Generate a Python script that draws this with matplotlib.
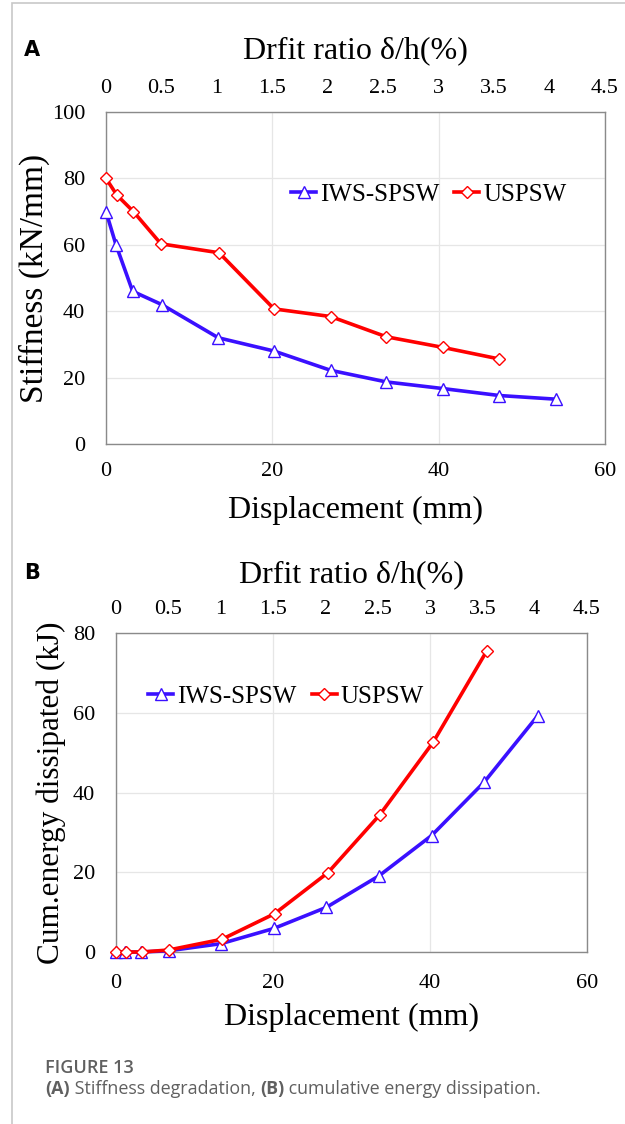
import matplotlib
matplotlib.use("Agg")
import matplotlib.pyplot as plt
from matplotlib.patches import Rectangle

# ---- data ----
disp_a_iws = [0, 1.2, 3.2, 6.7, 13.5, 20.2, 27.0, 33.7, 40.5, 47.3, 54.1]
stiff_iws = [70, 60, 46, 42, 32, 28, 22.2, 18.7, 16.7, 14.6, 13.5]
disp_a_us = [0, 1.3, 3.3, 6.6, 13.6, 20.2, 27.0, 33.7, 40.5, 47.3]
stiff_us = [80, 75, 70, 60.3, 57.6, 40.7, 38.4, 32.3, 29.1, 25.6]

disp_b_iws = [0, 1.2, 3.2, 6.7, 13.4, 20.1, 26.8, 33.5, 40.2, 46.9, 53.7]
energy_iws = [0, 0, 0, 0.3, 2.1, 5.9, 11.2, 19.1, 29.2, 42.6, 59.2]
disp_b_us = [0, 1.3, 3.3, 6.7, 13.5, 20.2, 27.0, 33.6, 40.4, 47.2]
energy_us = [0, 0, 0, 0.5, 3.2, 9.6, 19.9, 34.4, 52.6, 75.4]

x_ticks = [0, 20, 40, 60]
drift_ticks = [0, 0.5, 1, 1.5, 2, 2.5, 3, 3.5, 4, 4.5]
y_ticks_a = [0, 20, 40, 60, 80, 100]
y_ticks_b = [0, 20, 40, 60, 80]

series_names = ["IWS-SPSW", "USPSW"]

BLUE = "#3a10ff"
RED = "#ff0000"
SERIF = ["Liberation Serif", "DejaVu Serif"]
W, H = 625, 1124

fig = plt.figure(figsize=(6.25, 11.24), dpi=100)
fig.patch.set_facecolor("white")
fig.add_artist(Rectangle((12/W, -0.01), 1.0, 1 - 3/H + 0.01, transform=fig.transFigure,
                         fill=False, edgecolor="#c8c8c8", linewidth=1.2))


def make_panel(rect, xi, yi, xu, yu, yticks, ymax, ylabel, ylabel_size, ylabelpad,
               xpad, xlabelpad, toplabelpad, leg_anchor):
    ax = fig.add_axes(rect)
    ax.plot(xi, yi, color=BLUE, lw=2.6, marker="^", ms=8.5, mfc="white", mec=BLUE, mew=1.0,
            label=series_names[0], zorder=3, clip_on=False)
    ax.plot(xu, yu, color=RED, lw=2.6, marker="D", ms=6.5, mfc="white", mec=RED, mew=1.0,
            label=series_names[1], zorder=3, clip_on=False)
    ax.set_xlim(0, 60)
    ax.set_ylim(0, ymax)
    ax.set_xticks(x_ticks)
    ax.set_yticks(yticks)
    ax.grid(True, color="#e6e6e6", lw=0.9)
    ax.set_axisbelow(True)
    for s in ax.spines.values():
        s.set_color("#8a8a8a")
        s.set_linewidth(1.0)
    ax.tick_params(axis="x", length=0, labelsize=16, pad=xpad)
    ax.tick_params(axis="y", length=0, labelsize=16, pad=15)
    for t in ax.get_xticklabels() + ax.get_yticklabels():
        t.set_family(SERIF)
    ax.set_xlabel("Displacement (mm)", family=SERIF, fontsize=23, labelpad=xlabelpad)
    ax.set_ylabel(ylabel, family=SERIF, fontsize=ylabel_size, labelpad=ylabelpad)
    top = ax.twiny()
    top.set_xlim(0, 4.5)
    top.set_xticks(drift_ticks)
    top.set_xticklabels([f"{v:g}" for v in drift_ticks])
    top.tick_params(length=0, labelsize=16, pad=10)
    for t in top.get_xticklabels():
        t.set_family(SERIF)
    for s in top.spines.values():
        s.set_visible(False)
    top.set_xlabel("Drfit ratio δ/h(%)", family=SERIF, fontsize=23, labelpad=toplabelpad)
    ax.legend(loc="center left", bbox_to_anchor=leg_anchor, ncol=2, frameon=False,
              prop={"family": SERIF, "size": 18}, handlelength=1.0, handletextpad=0.15,
              columnspacing=0.6, borderaxespad=0, borderpad=0)
    return ax


make_panel([106/W, 1 - 444/H, 499/W, 332/H], disp_a_iws, stiff_iws, disp_a_us, stiff_us,
           y_ticks_a, 100, "Stiffness (kN/mm)", 24, 1.5, 13, 11, 15, (0.371, 0.75))
make_panel([116/W, 1 - 952/H, 471/W, 319/H], disp_b_iws, energy_iws, disp_b_us, energy_us,
           y_ticks_b, 80, "Cum.energy dissipated (kJ)", 22.5, 5, 16, 7, 13, (0.069, 0.80))

fig.text(24/W, 1 - 50/H, "A", fontsize=15, fontweight="bold", family="DejaVu Sans", va="center")
fig.text(24/W, 1 - 573/H, "B", fontsize=15, fontweight="bold", family="DejaVu Sans", va="center")

CAP = "#606060"
fig.text(45/W, 1 - 1068/H, "FIGURE 13", fontsize=13, color=CAP, family="Open Sans",
         fontweight="semibold", va="center")

pieces = [("(A)", "bold"), (" Stiffness degradation, ", "normal"), ("(B)", "bold"),
          (" cumulative energy dissipation.", "normal")]
fig.canvas.draw()
renderer = fig.canvas.get_renderer()
x = 45.0
for txt, wt in pieces:
    t = fig.text(x/W, 1 - 1089/H, txt, fontsize=12.9, color=CAP, family="Open Sans",
                 fontweight=wt, va="center")
    bb = t.get_window_extent(renderer=renderer)
    x += bb.width

fig.savefig("out.png", dpi=100)
